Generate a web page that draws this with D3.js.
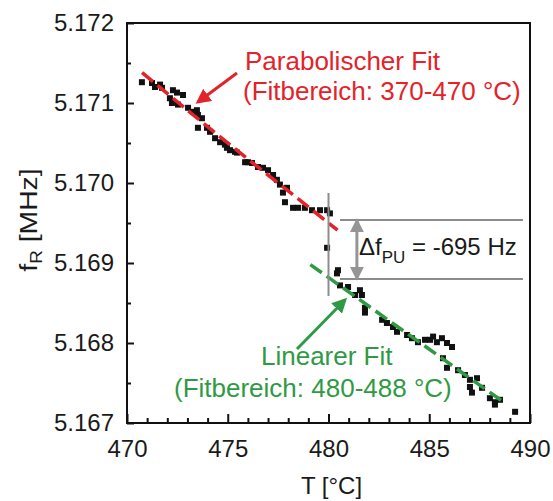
<!DOCTYPE html>
<html>
<head>
<meta charset="utf-8">
<script src="https://cdn.jsdelivr.net/npm/d3@7"></script>
<style>
  body { margin: 0; background: #fff; }
  text { font-family: "Liberation Sans", Arial, sans-serif; }
</style>
</head>
<body>
<div id="graph"></div>
<script>
// measured points: temperature [°C] and resonance frequency [MHz]
let temps = [470.74, 471.24, 471.39, 471.64, 471.74, 472.13, 472.28, 472.48, 472.78, 472.23,
             472.53, 473.03, 473.28, 473.47, 473.52, 473.72, 473.52, 473.97, 474.12, 474.37,
             474.62, 474.86, 474.96, 475.11, 475.36, 475.46, 475.86, 476.00, 476.20, 476.50,
             476.75, 477.00, 477.25, 477.44, 477.59, 477.74, 477.84, 477.94, 478.24, 478.49,
             478.83, 479.18, 479.58, 479.93, 480.07, 479.93, 480.47, 480.42, 480.57, 480.97,
             481.32, 481.56, 481.66, 481.81, 481.81, 482.66, 482.90, 483.20, 483.40, 483.90,
             484.14, 484.44, 484.79, 485.04, 485.19, 485.38, 485.63, 485.88, 486.13, 485.68,
             485.88, 486.43, 486.77, 487.02, 487.37, 487.02, 487.12, 487.62, 488.01, 488.26,
             488.51, 488.26, 489.26];
let freqs = [5.17126, 5.17125, 5.17120, 5.17123, 5.17119, 5.17106, 5.17116, 5.17113, 5.17110, 5.17100,
             5.17098, 5.17094, 5.17089, 5.17091, 5.17085, 5.17081, 5.17069, 5.17069, 5.17064, 5.17056,
             5.17051, 5.17048, 5.17044, 5.17041, 5.17039, 5.17038, 5.17026, 5.17026, 5.17025, 5.17020,
             5.17019, 5.17016, 5.17010, 5.17004, 5.16998, 5.16988, 5.16976, 5.16994, 5.16969, 5.16969,
             5.16969, 5.16966, 5.16966, 5.16966, 5.16962, 5.16919, 5.16891, 5.16887, 5.16872, 5.16870,
             5.16860, 5.16866, 5.16860, 5.16844, 5.16838, 5.16829, 5.16825, 5.16820, 5.16814, 5.16810,
             5.16806, 5.16801, 5.16804, 5.16804, 5.16808, 5.16801, 5.16806, 5.16800, 5.16795, 5.16781,
             5.16769, 5.16766, 5.16760, 5.16754, 5.16756, 5.16745, 5.16738, 5.16744, 5.16731, 5.16726,
             5.16729, 5.16723, 5.16714];

// fit curves
let parabT = [470.75, 473.1, 475.45, 477.95, 480.45];
let parabF = [5.17138, 5.17089, 5.17041, 5.16991, 5.16941];
let linT = [479.1, 488.75];
let linF = [5.16898, 5.16725];

// step annotation
let stepT = 480;
let stepF = [5.169875, 5.168587];
let levelF = [5.169538, 5.168800];
let levelT = [480.57, 489.65];
let arrowT = 481.41;

let xTicks = [470, 475, 480, 485, 490];
let yTicks = [5.167, 5.168, 5.169, 5.170, 5.171, 5.172];

let w = 553;
let h = 501;
let mLeft = 127, mTop = 23, mRight = 530, mBottom = 423;

let svg = d3.select("#graph")
              .append("svg")
                .attr("width", w)
                .attr("height", h);

let x = d3.scaleLinear().domain([470, 490]).range([mLeft, mRight]);
let y = d3.scaleLinear().domain([5.167, 5.172]).range([mBottom, mTop]);

let defs = svg.append("defs");
function marker(id, color, size){
  defs.append("marker")
        .attr("id", id)
        .attr("viewBox", "0 0 10 10")
        .attr("refX", 8)
        .attr("refY", 5)
        .attr("markerUnits", "userSpaceOnUse")
        .attr("markerWidth", size)
        .attr("markerHeight", size)
        .attr("orient", "auto-start-reverse")
      .append("path")
        .attr("d", "M0,0 L10,5 L0,10 z")
        .attr("fill", color);
}
marker("redHead", "#e3232a", 15);
marker("greenHead", "#2f9a44", 15);
marker("grayHead", "#959595", 14);

// axes (ticks inside)
let fmtY = d3.format(".3f");
let yAxis = d3.axisLeft(y).tickValues(yTicks).tickSize(-7).tickSizeOuter(0).tickPadding(13).tickFormat(fmtY);
let yMinor = d3.axisLeft(y).tickValues(yTicks.slice(0, -1).map(d => d + 0.0005)).tickSize(-4).tickSizeOuter(0).tickFormat("");
let xAxis = d3.axisBottom(x).tickValues(xTicks).tickSize(-9).tickSizeOuter(0).tickPadding(17).tickFormat(d3.format("d"));
let xMinor = d3.axisBottom(x).tickValues(d3.range(471, 490).filter(d => d % 5 != 0)).tickSize(-5).tickSizeOuter(0).tickFormat("");

function styleAxis(g){
  g.select(".domain").remove();
  g.selectAll("line").attr("stroke", "#111").attr("stroke-width", 2);
  g.selectAll("text").attr("font-size", 24).attr("fill", "#1a1a1a")
     .attr("font-family", "'Liberation Sans', Arial, sans-serif");
}

svg.append("g").attr("transform", "translate(" + mLeft + ",0)").call(yAxis).call(styleAxis);
svg.append("g").attr("transform", "translate(" + mLeft + ",0)").call(yMinor).call(styleAxis);
svg.append("g").attr("transform", "translate(0," + mBottom + ")").call(xAxis).call(styleAxis);
svg.append("g").attr("transform", "translate(0," + mBottom + ")").call(xMinor).call(styleAxis);

// frame
svg.append("rect")
     .attr("x", mLeft).attr("y", mTop)
     .attr("width", mRight - mLeft).attr("height", mBottom - mTop)
     .attr("fill", "none").attr("stroke", "#111").attr("stroke-width", 2);

// axis titles
svg.append("text")
     .attr("x", (mLeft + mRight) / 2 + 3)
     .attr("y", 494)
     .attr("text-anchor", "middle")
     .attr("font-size", 24)
     .attr("fill", "#1a1a1a")
     .text("T [°C]");

let yTitle = svg.append("text")
     .attr("transform", "translate(37,220) rotate(-90) scale(1.18,1)")
     .attr("text-anchor", "middle")
     .attr("font-size", 24)
     .attr("fill", "#1a1a1a");
yTitle.append("tspan").text("f");
yTitle.append("tspan").attr("font-size", 16).attr("dy", 5).text("R");
yTitle.append("tspan").attr("dy", -5).text(" [MHz]");

// data squares
let pts = temps.map((t, i) => ({t: t, f: freqs[i]}));
svg.selectAll("rect.pt").data(pts).enter()
     .append("rect")
       .attr("class", "pt")
       .attr("x", d => x(d.t) - 3)
       .attr("y", d => y(d.f) - 3)
       .attr("width", 6)
       .attr("height", 6)
       .attr("fill", "#111");

// fits
let line = d3.line().x(d => x(d[0])).y(d => y(d[1]));
svg.append("path")
     .attr("d", line.curve(d3.curveNatural)(parabT.map((t, i) => [t, parabF[i]])))
     .attr("fill", "none").attr("stroke", "#e3232a").attr("stroke-width", 3.5)
     .attr("stroke-dasharray", "14,6");
svg.append("path")
     .attr("d", d3.line().x(d => x(d[0])).y(d => y(d[1]))(linT.map((t, i) => [t, linF[i]])))
     .attr("fill", "none").attr("stroke", "#2f9a44").attr("stroke-width", 3.5)
     .attr("stroke-dasharray", "14,6");

// step annotation in gray
svg.append("line")
     .attr("x1", x(stepT)).attr("x2", x(stepT))
     .attr("y1", y(stepF[0])).attr("y2", y(stepF[1]))
     .attr("stroke", "#8c8c8c").attr("stroke-width", 2);
svg.selectAll("line.level").data(levelF).enter()
     .append("line")
       .attr("class", "level")
       .attr("x1", x(levelT[0])).attr("x2", x(levelT[1]))
       .attr("y1", d => y(d)).attr("y2", d => y(d))
       .attr("stroke", "#8c8c8c").attr("stroke-width", 2);
svg.append("line")
     .attr("x1", x(arrowT)).attr("x2", x(arrowT))
     .attr("y1", y(levelF[0]) + 1).attr("y2", y(levelF[1]) - 1)
     .attr("stroke", "#959595").attr("stroke-width", 3)
     .attr("marker-start", "url(#grayHead)")
     .attr("marker-end", "url(#grayHead)");

let dText = svg.append("text")
     .attr("x", 359).attr("y", 255)
     .attr("font-size", 24).attr("fill", "#1a1a1a");
dText.append("tspan").text("Δf");
dText.append("tspan").attr("font-size", 17).attr("dy", 8).text("PU");
dText.append("tspan").attr("dy", -8).text(" = -695 Hz");

// red label + arrow
svg.append("text").attr("x", 245).attr("y", 70).attr("font-size", 26).attr("fill", "#e3232a")
     .text("Parabolischer Fit");
svg.append("text").attr("x", 243).attr("y", 100).attr("font-size", 26).attr("fill", "#e3232a")
     .text("(Fitbereich: 370-470 °C)");
svg.append("line")
     .attr("x1", 237).attr("y1", 73).attr("x2", 198).attr("y2", 102)
     .attr("stroke", "#e3232a").attr("stroke-width", 3)
     .attr("marker-end", "url(#redHead)");

// green label + arrow
svg.append("text").attr("x", 261).attr("y", 365).attr("font-size", 26).attr("fill", "#2f9a44")
     .text("Linearer Fit");
svg.append("text").attr("x", 174).attr("y", 397).attr("font-size", 26).attr("fill", "#2f9a44")
     .text("(Fitbereich: 480-488 °C)");
svg.append("line")
     .attr("x1", 297).attr("y1", 349).attr("x2", 345).attr("y2", 300)
     .attr("stroke", "#2f9a44").attr("stroke-width", 3)
     .attr("marker-end", "url(#greenHead)");
</script>
</body>
</html>
